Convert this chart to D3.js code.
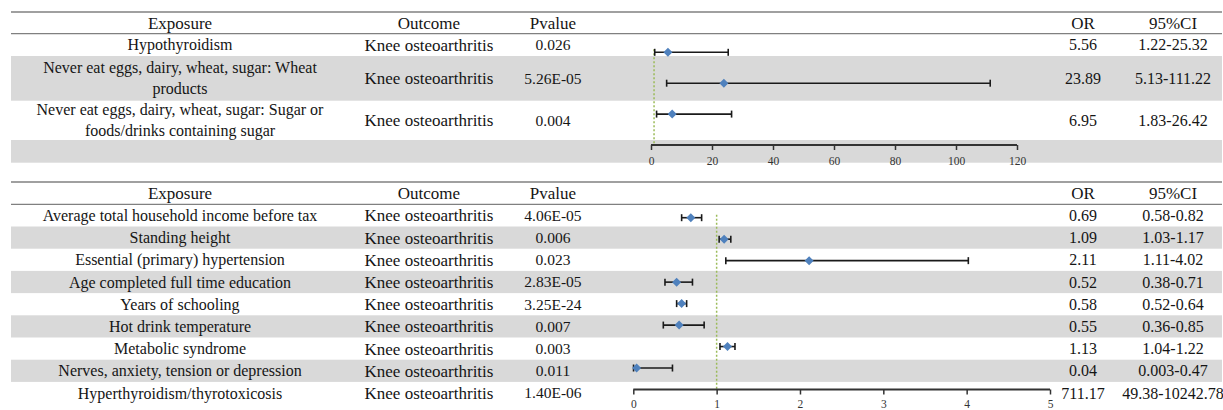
<!DOCTYPE html>
<html lang="en">
<head>
  <meta charset="UTF-8">
  <title>Forest plot - Knee osteoarthritis</title>
  <script src="https://d3js.org/d3.v7.min.js"></script>
  <style>
    body { margin: 0; background: #fff; }
    svg { display: block; font-family: 'Liberation Serif', 'Times New Roman', serif; }
  </style>
</head>
<body>
  <script>
    // ---- data: top panel ----
    const topExposure = [
      ["Hypothyroidism"],
      ["Never eat eggs, dairy, wheat, sugar: Wheat", "products"],
      ["Never eat eggs, dairy, wheat, sugar: Sugar or", "foods/drinks containing sugar"]
    ];
    const topOutcome = ["Knee osteoarthritis", "Knee osteoarthritis", "Knee osteoarthritis"];
    const topPvalue = ["0.026", "5.26E-05", "0.004"];
    const topOR = [5.56, 23.89, 6.95];
    const topLo = [1.22, 5.13, 1.83];
    const topHi = [25.32, 111.22, 26.42];
    const topTicks = [0, 20, 40, 60, 80, 100, 120];

    // ---- data: bottom panel ----
    const botExposure = [
      ["Average total household income before tax"],
      ["Standing height"],
      ["Essential (primary) hypertension"],
      ["Age completed full time education"],
      ["Years of schooling"],
      ["Hot drink temperature"],
      ["Metabolic syndrome"],
      ["Nerves, anxiety, tension or depression"],
      ["Hyperthyroidism/thyrotoxicosis"]
    ];
    const botOutcome = Array(9).fill("Knee osteoarthritis");
    const botPvalue = ["4.06E-05", "0.006", "0.023", "2.83E-05", "3.25E-24", "0.007", "0.003", "0.011", "1.40E-06"];
    const botOR = [0.69, 1.09, 2.11, 0.52, 0.58, 0.55, 1.13, 0.04, 711.17];
    const botLo = [0.58, 1.03, 1.11, 0.38, 0.52, 0.36, 1.04, 0.003, 49.38];
    const botHi = [0.82, 1.17, 4.02, 0.71, 0.64, 0.85, 1.22, 0.47, 10242.78];
    const botTicks = [0, 1, 2, 3, 4, 5];

    const headers = ["Exposure", "Outcome", "Pvalue", "OR", "95%CI"];

    const width = 1223, height = 410;
    const tableLeft = 11, tableRight = 1222;
    const colX = { exposure: 180, outcome: 429, pvalue: 553, or: 1083, ci: 1173 };
    const textColor = "#151515";

    const svg = d3.create("svg")
        .attr("width", width)
        .attr("height", height)
        .attr("viewBox", [0, 0, width, height])
        .attr("font-family", "'Liberation Serif', serif");

    function panel(cfg) {
      const g = svg.append("g");
      const n = cfg.or.length;

      // grey banding
      g.append("g")
        .selectAll("rect")
        .data(cfg.bands.slice(0, -1).map((y, i) => [y, cfg.bands[i + 1], i]))
        .join("rect")
          .attr("x", tableLeft)
          .attr("width", tableRight - tableLeft)
          .attr("y", d => d[0])
          .attr("height", d => d[1] - d[0])
          .attr("fill", d => d[2] % 2 ? "#d9d9d9" : "none");

      // header rules
      g.append("g")
          .attr("stroke", "#808080")
          .attr("stroke-width", 1.3)
        .selectAll("line")
        .data([cfg.top, cfg.bands[0]])
        .join("line")
          .attr("x1", tableLeft).attr("x2", tableRight)
          .attr("y1", d => d).attr("y2", d => d);

      // header texts
      const hx = [colX.exposure, colX.outcome, colX.pvalue, colX.or, colX.ci];
      g.append("g")
        .selectAll("text")
        .data(headers)
        .join("text")
          .attr("x", (d, i) => hx[i])
          .attr("y", (cfg.top + cfg.bands[0]) / 2)
          .attr("dy", "0.35em")
          .attr("text-anchor", "middle")
          .attr("font-size", 17)
          .attr("fill", textColor)
          .text(d => d);

      const rowMid = i => (cfg.bands[i] + cfg.bands[i + 1]) / 2;
      const lh = 21;

      // table cells
      const rows = g.append("g")
          .attr("fill", textColor)
          .attr("text-anchor", "middle")
        .selectAll("g")
        .data(d3.range(n))
        .join("g");

      rows.each(function(i) {
        const r = d3.select(this);
        const lines = cfg.exposure[i];
        lines.forEach((t, k) => {
          r.append("text")
              .attr("x", colX.exposure)
              .attr("y", rowMid(i) + (k - (lines.length - 1) / 2) * lh)
              .attr("dy", "0.35em")
              .attr("font-size", 16)
              .text(t);
        });
        r.append("text").attr("x", colX.outcome).attr("y", rowMid(i)).attr("dy", "0.35em")
            .attr("font-size", 17).text(cfg.outcome[i]);
        r.append("text").attr("x", colX.pvalue).attr("y", rowMid(i)).attr("dy", "0.35em")
            .attr("font-size", 15.5).text(cfg.pvalue[i]);
        r.append("text").attr("x", colX.or).attr("y", rowMid(i)).attr("dy", "0.35em")
            .attr("font-size", 16).text(String(cfg.or[i]));
        r.append("text").attr("x", colX.ci).attr("y", rowMid(i)).attr("dy", "0.35em")
            .attr("font-size", 16).text(cfg.lo[i] + "-" + cfg.hi[i]);
      });

      // forest plot
      const x = d3.scaleLinear().domain(d3.extent(cfg.ticks)).range(cfg.xRange);
      const y = d3.scaleLinear().domain([0, cfg.axisIndex]).range(cfg.yRange);
      const axisY = y(cfg.axisIndex);
      const xmax = x.domain()[1];
      const visible = d3.range(n).filter(i => cfg.lo[i] <= xmax);

      // reference line at OR = 1
      g.append("line")
          .attr("x1", x(1)).attr("x2", x(1))
          .attr("y1", y(0) - 3).attr("y2", axisY)
          .attr("stroke", "#9bbb59")
          .attr("stroke-width", 1.5)
          .attr("stroke-dasharray", "2,2");

      const ci = g.append("g")
          .attr("stroke", "#1a1a1a")
          .attr("stroke-width", 1.6)
        .selectAll("g")
        .data(visible)
        .join("g");
      ci.append("line")
          .attr("x1", i => x(cfg.lo[i])).attr("x2", i => x(Math.min(cfg.hi[i], xmax)))
          .attr("y1", i => y(i)).attr("y2", i => y(i));
      ci.append("line")
          .attr("x1", i => x(cfg.lo[i])).attr("x2", i => x(cfg.lo[i]))
          .attr("y1", i => y(i) - 3.5).attr("y2", i => y(i) + 3.5);
      ci.append("line")
          .attr("x1", i => x(cfg.hi[i])).attr("x2", i => x(cfg.hi[i]))
          .attr("y1", i => y(i) - 3.5).attr("y2", i => y(i) + 3.5)
          .attr("display", i => cfg.hi[i] > xmax ? "none" : null);

      g.append("g")
          .attr("fill", "#4f81bd")
        .selectAll("path")
        .data(visible.filter(i => cfg.or[i] <= xmax))
        .join("path")
          .attr("transform", i => `translate(${x(cfg.or[i])},${y(i)})`)
          .attr("d", "M0,-4.5L4.5,0L0,4.5L-4.5,0Z");

      // x axis
      const axis = g.append("g")
          .attr("transform", `translate(0,${axisY})`)
          .call(d3.axisBottom(x).tickValues(cfg.ticks).tickFormat(d3.format("d"))
              .tickSize(5).tickPadding(cfg.tickPad));
      axis.select(".domain")
          .attr("stroke", "#333")
          .attr("stroke-width", 2)
          .attr("d", `M${x.range()[0]},0H${x.range()[1]}`);
      axis.selectAll(".tick line").attr("stroke", "#333").attr("stroke-width", 1.5);
      axis.selectAll(".tick text")
          .attr("font-family", "'Liberation Serif', serif")
          .attr("font-size", 11.5)
          .attr("fill", "#333");
    }

    panel({
      exposure: topExposure, outcome: topOutcome, pvalue: topPvalue,
      or: topOR, lo: topLo, hi: topHi, ticks: topTicks,
      top: 12, bands: [33.7, 56, 100.7, 140, 162.7],
      xRange: [651, 1017], yRange: [52.3, 145], axisIndex: 3, tickPad: 7
    });

    panel({
      exposure: botExposure, outcome: botOutcome, pvalue: botPvalue,
      or: botOR, lo: botLo, hi: botHi, ticks: botTicks,
      top: 182, bands: d3.range(10).map(i => 204.3 + i * 22.2),
      xRange: [633.3, 1050], yRange: [217.7, 389.5], axisIndex: 8, tickPad: 5
    });

    document.body.appendChild(svg.node());
  </script>
</body>
</html>
